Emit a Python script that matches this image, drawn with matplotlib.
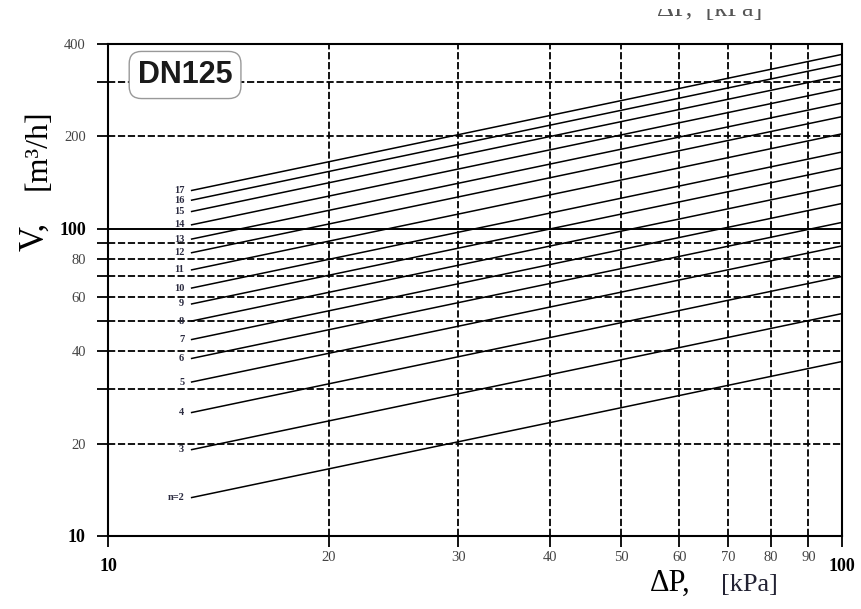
import numpy as np
import matplotlib.pyplot as plt
from matplotlib.ticker import FixedLocator, NullFormatter
import matplotlib.transforms as mtransforms

# valve curves: Kv (flow at 100 kPa) per opening number n
n_vals = [2, 3, 4, 5, 6, 7, 8, 9, 10, 11, 12, 13, 14, 15, 16, 17]
kv_vals = [37, 53, 70, 88, 105, 121, 139, 158, 178, 204, 232, 257, 286, 316, 344, 370]
dp_start = 13.0
dp_end = 100.0

x_grid = [20, 30, 40, 50, 60, 70, 80, 90]
y_grid = [20, 30, 40, 50, 60, 70, 80, 90, 200, 300]
y_ticks = [10, 20, 40, 60, 80, 100, 200, 400]
y_minor = [30, 50, 70, 90, 300]
x_ticks = [10, 20, 30, 40, 50, 60, 70, 80, 90, 100]

plt.rcParams['font.family'] = ['Liberation Serif', 'DejaVu Serif']

fig = plt.figure(figsize=(8.61, 6.09), dpi=100)
ax = fig.add_axes([108/861, 73/609, 734/861, 492/609])
ax.set_xscale('log')
ax.set_yscale('log')
ax.set_xlim(10, 100)
ax.set_ylim(10, 400)

dash = dict(color='black', lw=1.3, dashes=(4, 1.5))
for gx in x_grid:
    ax.axvline(gx, **dash, zorder=1)
for gy in y_grid:
    ax.axhline(gy, **dash, zorder=1)
ax.axhline(100, color='black', lw=1.4, zorder=1)

dp = np.array([dp_start, dp_end])
for n, kv in zip(n_vals, kv_vals):
    v = kv * np.sqrt(dp / 100.0)
    ax.plot(dp, v, color='black', lw=1.1, zorder=2)
    lab = 'n=2' if n == 2 else str(n)
    ax.text(12.7, v[0], lab, ha='right', va='center', fontsize=7.5,
            fontweight='bold', color='#2b2b40', zorder=3)

# ticks
ax.xaxis.set_major_locator(FixedLocator(x_ticks))
ax.xaxis.set_minor_formatter(NullFormatter())
ax.xaxis.set_minor_locator(FixedLocator([]))
ax.yaxis.set_major_locator(FixedLocator(y_ticks))
ax.yaxis.set_minor_locator(FixedLocator(y_minor))
ax.yaxis.set_minor_formatter(NullFormatter())
ax.set_xticklabels([str(t) for t in x_ticks])
ax.set_yticklabels([str(t) for t in y_ticks])
ax.tick_params(which='both', direction='out', length=8, width=1.3,
               labelsize=10.5, labelcolor='#444444', pad=8)
up = mtransforms.ScaledTranslation(0, 5/72, fig.dpi_scale_trans)
for lbl, t in zip(ax.get_xticklabels(), x_ticks):
    if t in (10, 100):
        lbl.set_fontsize(13)
        lbl.set_fontweight('bold')
        lbl.set_color('black')
    else:
        lbl.set_transform(lbl.get_transform() + up)
for lbl, t in zip(ax.get_yticklabels(), y_ticks):
    if t in (10, 100):
        lbl.set_fontsize(13)
        lbl.set_fontweight('bold')
        lbl.set_color('black')
for s in ax.spines.values():
    s.set_linewidth(1.5)

ax.text(0.105, 0.937, 'DN125', transform=ax.transAxes, ha='center', va='center',
        fontsize=22, fontweight='bold', family='Liberation Sans', color='#1a1a1a',
        bbox=dict(boxstyle='round,pad=0.28,rounding_size=0.4', fc='white',
                  ec='#999999', lw=1.0), zorder=4)

# axis labels (symbol larger than unit, as in the source sheet)
fig.text(35/861, 1 - 236/609, 'V,', rotation=90, ha='center',
         va='center', fontsize=25)
fig.text(38/861, 1 - 150/609, '[m\u00b3/h]', rotation=90, ha='center',
         va='center', fontsize=23)
fig.text(670/861, 1 - 583/609, '\u0394P,', ha='center', va='center',
         fontsize=22)
fig.text(749/861, 1 - 585/609, '[kPa]', ha='center', va='center',
         fontsize=19, color='#222233')
# cut-off label from the chart above
fig.text(710/861, 1 - 16/609, '\u0394P,  [kPa]', ha='center', va='baseline',
         fontsize=19, color='#555555')
fig.patches.append(plt.Rectangle((0, 1 - 9/609), 1, 9/609, transform=fig.transFigure,
                                 fc='white', ec='none', zorder=10))

fig.savefig('out.png', dpi=100)
